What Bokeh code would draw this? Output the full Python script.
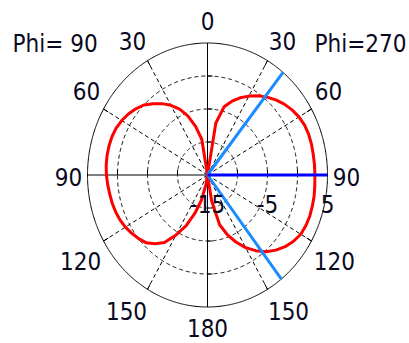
import numpy as np
from bokeh.plotting import figure
from bokeh.models import Range1d
from bokeh.core.properties import value
from bokeh.embed import file_html
from bokeh.resources import INLINE

# ---------------- data ----------------
theta_deg = list(range(0, 181, 5))          # polar angle from the top (0) to the bottom (180)
# gain in dB, Phi = 90 cut (drawn on the left half)
gain_phi90 = [-15, -15, -9.5, -7.4, -5.5, -4.0, -2.8, -1.8, -0.9, 0.0,
              0.6, 1.1, 1.5, 1.8, 1.95, 2.0, 2.0, 1.95, 1.85,
              1.7, 1.55, 1.45, 1.3, 1.1, 0.8, 0.4, 0.0, -0.5, -1.4,
              -2.5, -4.5, -6.5, -8.8, -11.0, -13.5, -15, -15]
# gain in dB, Phi = 270 cut (drawn on the right half)
gain_phi270 = [-15, -15, -7.0, -4.3, -3.1, -2.1, -1.2, -0.35, 0.4, 1.1,
               1.7, 2.2, 2.6, 2.85, 2.95, 2.95, 2.9, 2.9, 2.9,
               2.95, 3.05, 3.1, 3.15, 3.1, 2.95, 2.5, 1.9, 1.1, 0.2,
               -1.0, -2.3, -3.8, -5.4, -7.2, -11.0, -15, -15]
max_dir_deg = [90]               # direction of maximum (dark blue)
half_power_dirs_deg = [39, 142]  # -3 dB directions (light blue)

r_min, r_max = -15, 5
r_grid_db = [-10, -5, 0]
r_tick_db = [-10, -5, 0]
r_label_db = [-15, -5, 5]
angle_grid_deg = [30, 60, 120, 150]
angle_label_deg = [0, 30, 60, 90, 120, 150, 180]
title_left = "Phi= 90"
title_right = "Phi=270"

# ---------------- layout / style ----------------
SX, SY = 120.0, 132.0          # pixels per unit radius (horizontal / vertical)
W, H = 409, 343
CX, CY = 207.0, 174.5          # centre of the polar plot inside the figure (px)
FONT = value("'Liberation Sans Narrow', 'DejaVu Sans Condensed', 'Roboto Condensed', 'Liberation Sans', sans-serif")
FSIZE = "24px"
TXT = "#0a0a1e"
# label offsets (px, right/up) from the outer ring point for each angle label
angle_label_offsets_px = [(0, 22), (15, 20), (17, 18), (19, -2), (23, -20), (21, -22), (0, -21)]


def norm(db):
    return np.clip((np.asarray(db, float) - r_min) / (r_max - r_min), 0, 1)


p = figure(width=W, height=H,
           x_range=Range1d(-CX / SX, (W - CX) / SX),
           y_range=Range1d(-(H - CY) / SY, CY / SY),
           output_backend="svg", toolbar_location=None,
           x_axis_location=None, y_axis_location=None,
           min_border=0)
p.grid.visible = False
p.outline_line_color = None
p.background_fill_color = "white"

t = np.linspace(0, 2 * np.pi, 721)
# dashed grid rings
for db in r_grid_db:
    rr = norm(db)
    p.line(rr * np.sin(t), rr * np.cos(t), line_color="black", line_width=1, line_dash="4 3")
# outer ring
p.line(np.sin(t), np.cos(t), line_color="black", line_width=1)
# dashed spokes
for side in (-1, 1):
    for a in angle_grid_deg:
        ar = np.radians(a)
        p.line([0, side * np.sin(ar)], [0, np.cos(ar)], line_color="black", line_width=1, line_dash="4 3")
        p.line([side * 0.955 * np.sin(ar), side * np.sin(ar)], [0.955 * np.cos(ar), np.cos(ar)],
               line_color="black", line_width=1)
# solid axes
p.line([-1, 1], [0, 0], line_color="black", line_width=1)
p.line([0, 0], [-1, 1], line_color="black", line_width=1)
# axis ticks
for db in r_tick_db:
    rr = norm(db)
    for s in (-1, 1):
        p.line([s * rr, s * rr], [0, 5 / SY], line_color="black", line_width=1)
        p.line([0, 5 / SX], [s * rr, s * rr], line_color="black", line_width=1)

# pattern curves
th = np.radians(theta_deg)
r90 = norm(gain_phi90)
r270 = norm(gain_phi270)
p.line(-r90 * np.sin(th), r90 * np.cos(th), line_color="#ff0000", line_width=3, line_join="round")
p.line(r270 * np.sin(th), r270 * np.cos(th), line_color="#ff0000", line_width=3, line_join="round")

# direction markers
rr_full = norm([r_min, r_max])
for a in half_power_dirs_deg:
    ar = np.radians(a)
    p.line(rr_full * np.sin(ar), rr_full * np.cos(ar), line_color="#1a8cff", line_width=3)
for a in max_dir_deg:
    ar = np.radians(a)
    p.line(rr_full * np.sin(ar), rr_full * np.cos(ar), line_color="#0000ff", line_width=3)

# angle labels
lx, ly, lt = [], [], []
for a, (ox, oy) in zip(angle_label_deg, angle_label_offsets_px):
    ar = np.radians(a)
    sides = (1,) if a in (0, 180) else (-1, 1)
    for s in sides:
        lx.append(s * (np.sin(ar) + ox / SX))
        ly.append(np.cos(ar) + oy / SY)
        lt.append(str(a))
p.text(x=lx, y=ly, text=lt, text_align="center", text_baseline="middle",
       text_font=FONT, text_font_size=FSIZE, text_color=TXT)

# radial value labels
rx = [float(norm(v)) for v in r_label_db]
p.text(x=rx, y=[-29 / SY] * len(rx), text=[str(v) for v in r_label_db],
       text_align="center", text_baseline="middle",
       text_font=FONT, text_font_size=FSIZE, text_color=TXT)

# plane titles
xr = p.x_range
p.text(x=[xr.start + 12 / SX], y=[131 / SY], text=[title_left], text_align="left",
       text_baseline="middle", text_font=FONT, text_font_size=FSIZE, text_color=TXT)
p.text(x=[xr.end - 3 / SX], y=[131 / SY], text=[title_right], text_align="right",
       text_baseline="middle", text_font=FONT, text_font_size=FSIZE, text_color=TXT)

open("out.html", "w").write(file_html(p, INLINE))
